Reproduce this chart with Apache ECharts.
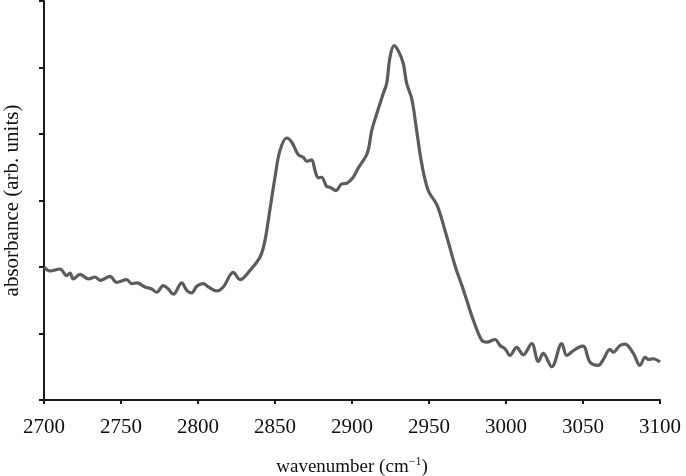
<!DOCTYPE html>
<html>
<head>
<meta charset="utf-8">
<script src="https://cdn.jsdelivr.net/npm/echarts@6/dist/echarts.min.js"></script>
<style>html,body{margin:0;padding:0;background:#fff}#c{width:686px;height:476px}</style>
</head>
<body>
<div id="c"></div>
<script>
const wavenumber = [2700,2703.9,2710.4,2714.7,2716.9,2719.0,2723.4,2728.8,2733.1,2736.4,2742.9,2747.2,2753.7,2756.9,2760.2,2765.6,2769.9,2773.2,2777.5,2780.7,2784.0,2789.4,2792.7,2795.9,2799.2,2803.4,2806.7,2812.1,2816.4,2822.9,2827.3,2833.8,2840.3,2843.5,2846.8,2850.0,2853.2,2857.6,2860.8,2865.1,2868.4,2870.6,2873.8,2876.0,2878.1,2880.3,2883.6,2885.7,2889.6,2893.3,2896.6,2900.8,2904.1,2909.9,2912.8,2916.0,2920.3,2922.5,2924.7,2927.3,2930.1,2933.3,2935.5,2938.8,2942.0,2945.3,2949.5,2955.2,2960.4,2966.9,2971.4,2974.5,2978.8,2984.2,2987.5,2992.9,2996.1,2999.4,3002.6,3006.9,3011.2,3016.7,3021.0,3024.2,3029.7,3036.2,3039.4,3043.7,3047.0,3050.2,3054.5,3059.9,3063.2,3067.5,3069.7,3074.0,3077.3,3082.7,3087.0,3090.3,3092.5,3095.7,3100];
const absorbance = [2.00,1.94,1.97,1.87,1.91,1.82,1.89,1.82,1.85,1.80,1.86,1.77,1.81,1.75,1.76,1.70,1.67,1.62,1.72,1.67,1.59,1.76,1.65,1.61,1.71,1.75,1.70,1.64,1.70,1.92,1.81,1.95,2.15,2.40,2.88,3.35,3.75,3.94,3.88,3.69,3.65,3.59,3.61,3.45,3.34,3.35,3.21,3.20,3.15,3.25,3.26,3.35,3.49,3.71,4.05,4.30,4.61,4.76,5.16,5.33,5.25,5.06,4.76,4.53,4.05,3.55,3.15,2.93,2.55,2.02,1.72,1.50,1.20,0.90,0.87,0.91,0.82,0.77,0.67,0.79,0.68,0.85,0.58,0.70,0.50,0.85,0.67,0.74,0.79,0.81,0.57,0.52,0.61,0.76,0.72,0.82,0.84,0.70,0.52,0.64,0.61,0.62,0.57];
const xTicks = {min: 2700, max: 3100, step: 50};
const yTicks = {min: 0, max: 6, step: 1};
const xTitle = 'wavenumber';
const yTitle = 'absorbance (arb. units)';

const chart = echarts.init(document.getElementById('c'));
const font = 'Liberation Serif';
chart.setOption({
  animation: false,
  grid: {left: 44, right: 26, top: 1, bottom: 76, containLabel: false, outerBoundsMode: 'none'},
  xAxis: {
    type: 'value', min: xTicks.min, max: xTicks.max, interval: xTicks.step,
    axisLine: {show: true, onZero: false, lineStyle: {color: '#1a1a1a', width: 2}},
    axisTick: {show: true, inside: false, length: 4, lineStyle: {color: '#1a1a1a', width: 2}},
    axisLabel: {color: '#111', fontFamily: font, fontSize: 21, margin: 17, formatter: v => String(v)},
    splitLine: {show: false},
    name: '{a|' + xTitle + ' (cm}{s|−1}{a|)}',
    nameLocation: 'middle', nameGap: 56,
    nameTextStyle: {rich: {
      a: {fontFamily: font, fontSize: 19, color: '#111', verticalAlign: 'bottom', lineHeight: 21},
      s: {fontFamily: font, fontSize: 12, color: '#111', verticalAlign: 'top', lineHeight: 21, padding: [0,0,8,0]}
    }}
  },
  yAxis: {
    type: 'value', min: yTicks.min, max: yTicks.max, interval: yTicks.step,
    axisLine: {show: true, onZero: false, lineStyle: {color: '#1a1a1a', width: 2}},
    axisTick: {show: true, inside: false, length: 5, lineStyle: {color: '#1a1a1a', width: 2}},
    axisLabel: {show: false},
    splitLine: {show: false},
    name: yTitle, nameLocation: 'middle', nameGap: 21,
    nameTextStyle: {fontFamily: font, fontSize: 21, color: '#111'}
  },
  series: [{
    type: 'line',
    data: wavenumber.map((w, i) => [w, absorbance[i]]),
    showSymbol: false, smooth: 0.35,
    lineStyle: {color: '#5c5c5c', width: 3.2}
  }]
});
</script>
</body>
</html>
